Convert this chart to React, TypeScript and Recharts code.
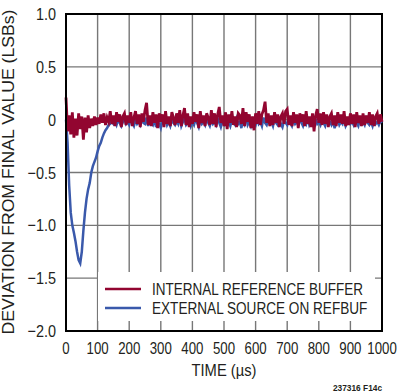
import {
  CartesianGrid,
  ComposedChart,
  Customized,
  Legend,
  Line,
  ReferenceArea,
  XAxis,
  YAxis,
} from "recharts";

// sampling step of the captured traces, in µs
const TIME_STEP = 5;

const TIME_TICKS = [0, 100, 200, 300, 400, 500, 600, 700, 800, 900, 1000];
const VALUE_TICKS = [1, 0.5, 0, -0.5, -1, -1.5, -2];

// internal reference buffer (LSBs), one value every 5 µs
const internalRef = [
  0.21, -0.11, 0.04, -0.14, 0.07, -0.17, 0.01, -0.15, 0.06, -0.09,
  0.03, -0.19, 0.02, -0.12, 0.04, -0.08, 0.01, -0.06, 0.03, -0.05,
  0.02, -0.04, 0.05, -0.03, 0.06, -0.05, 0.02, -0.02, 0.08, -0.04,
  0.04, -0.06, 0.07, -0.02, 0.05, -0.07, 0.03, 0.06, -0.05, 0.04,
  -0.03, 0.07, -0.06, 0.02, 0.08, -0.04, 0.05, -0.07, 0.06, -0.02,
  0.09, 0.16, -0.05, 0.04, -0.06, 0.07, -0.03, 0.05, -0.08, 0.06,
  -0.02, 0.05, -0.07, 0.08, -0.04, 0.03, -0.06, 0.07, 0.02, -0.05,
  0.06, -0.03, 0.09, -0.06, 0.04, 0.11, -0.05, 0.06, -0.07, 0.03,
  -0.04, 0.07, -0.02, 0.05, -0.08, 0.08, -0.03, 0.04, -0.06, 0.06,
  0.02, -0.05, 0.09, -0.04, 0.06, -0.07, 0.05, 0.12, -0.03, 0.04,
  -0.06, 0.07, -0.09, 0.05, -0.03, 0.08, -0.05, 0.03, -0.07, 0.06,
  0.04, -0.04, 0.11, -0.06, 0.07, -0.02, 0.05, -0.08, 0.03, -0.1,
  0.06, -0.04, 0.08, -0.05, 0.05, 0.09, 0.17, -0.03, 0.06, -0.06,
  0.04, -0.05, 0.07, -0.03, 0.05, -0.07, 0.03, 0.06, -0.04, 0.08,
  0.1, -0.05, 0.04, -0.06, 0.07, -0.03, 0.05, -0.08, 0.06, -0.02,
  0.05, -0.06, 0.08, -0.04, 0.03, -0.07, 0.06, -0.11, 0.04, 0.1,
  -0.03, 0.06, -0.05, 0.07, -0.04, 0.05, -0.07, 0.03, 0.06, -0.05,
  0.04, -0.06, 0.07, -0.03, 0.05, -0.04, 0.08, -0.06, 0.03, -0.05,
  0.06, -0.04, 0.05, -0.07, 0.07, -0.03, 0.04, -0.06, 0.06, -0.05,
  0.04, -0.03, 0.07, -0.05, 0.05, -0.06, 0.03, 0.06, -0.04, 0.05,
  -0.02,
];

// external source on REFBUF (LSBs), one value every 5 µs
const externalSrc = [
  0.0, -0.22, -0.62, -0.88, -1.0, -1.07, -1.15, -1.25, -1.33, -1.36,
  -1.25, -1.05, -0.88, -0.75, -0.66, -0.6, -0.5, -0.44, -0.4, -0.36,
  -0.3, -0.25, -0.22, -0.17, -0.13, -0.1, -0.08, -0.05, -0.04, -0.02,
  -0.04, -0.01, -0.05, 0.0, -0.03, -0.06, -0.02, 0.01, -0.04, -0.02,
  -0.05, 0.01, -0.03, -0.06, 0.0, -0.04, -0.02, -0.05, 0.01, -0.03,
  -0.04, 0.02, -0.06, -0.01, -0.03, -0.05, 0.0, -0.07, -0.02, -0.04,
  -0.08, -0.01, -0.04, 0.02, -0.05, -0.02, -0.06, 0.0, -0.03, -0.05,
  -0.01, -0.04, 0.03, -0.06, -0.02, 0.01, -0.05, -0.03, 0.0, -0.06,
  -0.02, -0.05, 0.01, -0.03, -0.07, 0.0, -0.04, -0.02, -0.05, 0.02,
  -0.03, -0.06, 0.0, -0.04, -0.02, -0.05, 0.01, -0.03, -0.07, -0.01,
  -0.04, 0.02, -0.05, -0.02, -0.06, 0.0, -0.03, -0.05, 0.01, -0.04,
  -0.02, -0.08, 0.0, -0.04, 0.03, -0.05, -0.02, -0.06, 0.0, -0.03,
  -0.05, 0.01, -0.04, -0.02, -0.06, 0.02, -0.03, -0.05, 0.0, -0.04,
  -0.02, -0.06, 0.01, -0.03, -0.05, 0.0, -0.04, -0.07, -0.01, -0.03,
  -0.05, 0.02, -0.03, -0.06, 0.0, -0.04, -0.02, -0.05, 0.01, -0.03,
  -0.06, -0.01, -0.04, 0.02, -0.05, -0.02, -0.03, -0.06, 0.0, -0.04,
  -0.02, -0.05, 0.01, -0.03, -0.06, 0.0, -0.04, -0.02, -0.05, -0.01,
  -0.08, -0.03, 0.0, -0.05, -0.02, -0.04, 0.01, -0.06, -0.03, -0.01,
  -0.04, -0.02, -0.05, 0.01, -0.03, -0.06, 0.0, -0.04, -0.02, -0.05,
  0.01, -0.03, -0.05, -0.02, -0.06, 0.0, -0.04, -0.02, -0.05, -0.01,
  -0.03,
];

const SERIES = [
  { key: "internal", name: "INTERNAL REFERENCE BUFFER", color: "#920530", squeeze: 0.795 },
  { key: "external", name: "EXTERNAL SOURCE ON REFBUF", color: "#3a59ab", squeeze: 0.8 },
];

const FONT = "'Liberation Sans', Arial, sans-serif";
const TEXT = "#231f20";

const fmtValue = (v: number) => {
  if (v === 0) return "0";
  const s = Math.abs(v).toFixed(1);
  return v < 0 ? `\u2212${s}` : s;
};

// the original uses a condensed face, so squeeze the glyphs horizontally
function NarrowTick(props: any) {
  const { x, y, payload, textAnchor, scaleX, dy, format } = props;
  const label = format ? format(payload.value) : String(payload.value);
  return (
    <text
      transform={`translate(${x},${y}) scale(${scaleX},1)`}
      textAnchor={textAnchor}
      dy={dy}
      fontSize={17}
      fontFamily={FONT}
      fill={TEXT}
    >
      {label}
    </text>
  );
}

function LegendBox() {
  return (
    <svg width={277} height={49} style={{ display: "block" }}>
      {SERIES.map((s, i) => (
        <g key={s.key}>
          <line x1={7} x2={43} y1={17 + i * 19} y2={17 + i * 19} stroke={s.color} strokeWidth={2.5} />
          <text
            transform={`translate(54 ${23 + i * 19}) scale(${s.squeeze},1)`}
            fontSize={17}
            fontFamily={FONT}
            fill={TEXT}
          >
            {s.name}
          </text>
        </g>
      ))}
    </svg>
  );
}

function Titles() {
  return (
    <g fontFamily={FONT} fill={TEXT}>
      <text x={224} y={376} fontSize={17} textAnchor="middle" textLength={65} lengthAdjust="spacingAndGlyphs">
        TIME (µs)
      </text>
      <text
        x={0}
        y={0}
        fontSize={17}
        textAnchor="middle"
        textLength={325}
        lengthAdjust="spacingAndGlyphs"
        transform="translate(14 172) rotate(-90)"
      >
        DEVIATION FROM FINAL VALUE (LSBs)
      </text>
      <text x={382} y={391} fontSize={9} fontWeight="bold" textAnchor="end" textLength={49} lengthAdjust="spacingAndGlyphs">
        237316 F14c
      </text>
    </g>
  );
}

export default function App() {
  const data = internalRef.map((v, i) => ({
    time: i * TIME_STEP,
    internal: v,
    external: externalSrc[i],
  }));

  return (
    <div style={{ position: "absolute", left: 0, top: 0, background: "#fff" }}>
      <ComposedChart
        width={401}
        height={392}
        data={data}
        margin={{ top: 14, right: 19, left: 0, bottom: 0 }}
      >
        <CartesianGrid stroke="#777" strokeWidth={1.4} />
        <XAxis
          dataKey="time"
          type="number"
          domain={[0, 1000]}
          ticks={TIME_TICKS}
          interval={0}
          height={61}
          tickLine={false}
          axisLine={{ stroke: "#000", strokeWidth: 2 }}
          tickMargin={5}
          tick={<NarrowTick scaleX={0.78} dy="0.71em" />}
        />
        <YAxis
          type="number"
          domain={[-2, 1]}
          ticks={VALUE_TICKS}
          interval={0}
          width={66}
          tickLine={false}
          axisLine={{ stroke: "#000", strokeWidth: 2 }}
          tickMargin={4}
          tick={<NarrowTick scaleX={0.85} dy="0.355em" format={fmtValue} />}
        />
        <ReferenceArea x1={0} x2={1000} y1={-2} y2={1} fill="none" stroke="#000" strokeWidth={2} />
        <Line
          dataKey="external"
          name={SERIES[1].name}
          stroke={SERIES[1].color}
          strokeWidth={2.5}
          dot={false}
          type="linear"
          isAnimationActive={false}
        />
        <Line
          dataKey="internal"
          name={SERIES[0].name}
          stroke={SERIES[0].color}
          strokeWidth={2.8}
          dot={false}
          type="linear"
          isAnimationActive={false}
        />
        <Legend
          layout="horizontal"
          verticalAlign="middle"
          align="center"
          content={<LegendBox />}
          wrapperStyle={{ left: 98, top: 272, width: 277, height: 49, background: "#fff" }}
        />
        <Customized component={Titles} />
      </ComposedChart>
    </div>
  );
}
